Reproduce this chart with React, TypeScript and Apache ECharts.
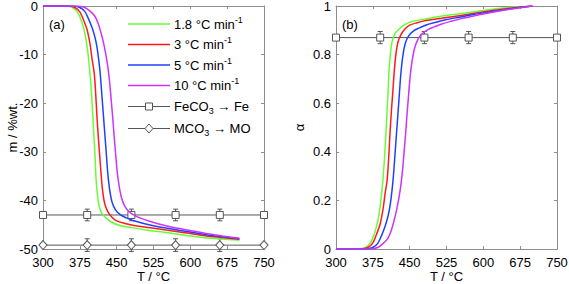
import { useEffect, useRef } from "react";
import * as echarts from "echarts";

const FONT = "'Liberation Sans', Arial, Helvetica, sans-serif";

// Heating-rate curves: temperature (°C), mass change (%wt.), conversion alpha
const T_18 = [300, 345, 360, 370, 378, 385, 390, 394, 397, 400, 403, 406, 408, 411, 414, 419, 427, 440, 455, 480, 517, 550, 591, 630, 700];
const M_18 = [0, 0, -0.3, -1.2, -3, -5.5, -8.5, -12, -15.5, -20, -25.5, -31, -35.5, -39, -41, -42.5, -43.5, -44.5, -45.1, -45.6, -46.2, -46.6, -47.2, -47.7, -48.2];
const A_18 = [0, 0, 0.006, 0.025, 0.062, 0.114, 0.176, 0.249, 0.322, 0.415, 0.529, 0.643, 0.736, 0.809, 0.851, 0.882, 0.902, 0.923, 0.936, 0.946, 0.959, 0.967, 0.979, 0.99, 1];

const T_3 = [300, 350, 365, 375, 383, 390, 396, 400, 404, 407, 410, 413, 416, 419, 422, 426, 432, 440, 450, 465, 483, 515, 551, 585, 618, 660, 700];
const M_3 = [0, 0, -0.3, -1.2, -3, -5, -8, -11, -13.5, -17.5, -23, -27.5, -31.5, -35.5, -38.5, -40.8, -42.3, -43.4, -44.2, -44.7, -45.1, -45.6, -46.1, -46.6, -47.1, -47.6, -48];
const A_3 = [0, 0, 0.006, 0.025, 0.063, 0.104, 0.167, 0.229, 0.281, 0.365, 0.479, 0.573, 0.656, 0.74, 0.802, 0.85, 0.881, 0.904, 0.921, 0.931, 0.94, 0.95, 0.96, 0.971, 0.981, 0.992, 1];

const T_5 = [300, 360, 375, 385, 392, 400, 406, 410, 414, 417, 420, 423, 426, 429, 432, 436, 441, 448, 458, 470, 485, 503, 525, 551, 580, 612, 650, 700];
const M_5 = [0, 0, -0.3, -1.1, -2.5, -4.5, -6.5, -8.5, -11.5, -14.5, -18.5, -22.5, -26.5, -30.5, -34.5, -38, -40.5, -42, -43, -43.6, -44.2, -44.7, -45.2, -45.7, -46.2, -46.7, -47.3, -47.9];
const A_5 = [0, 0, 0.006, 0.023, 0.052, 0.094, 0.136, 0.177, 0.24, 0.303, 0.386, 0.47, 0.553, 0.637, 0.72, 0.793, 0.846, 0.877, 0.898, 0.91, 0.923, 0.933, 0.944, 0.954, 0.965, 0.975, 0.987, 1];

const T_10 = [300, 370, 385, 395, 405, 412, 418, 423, 428, 432, 436, 439, 442, 445, 448, 451, 455, 460, 467, 476, 488, 500, 517, 534, 555, 578, 605, 632, 665, 700];
const M_10 = [0, 0, -0.3, -1, -2, -3.5, -5.5, -7.5, -10, -12.5, -16, -19.5, -23, -27, -30.5, -34, -37, -39.5, -41.3, -42.4, -43.2, -43.7, -44.3, -44.8, -45.3, -45.8, -46.3, -46.8, -47.3, -47.8];
const A_10 = [0, 0, 0.006, 0.021, 0.042, 0.073, 0.115, 0.157, 0.209, 0.262, 0.335, 0.408, 0.481, 0.565, 0.638, 0.711, 0.774, 0.826, 0.864, 0.887, 0.904, 0.914, 0.927, 0.937, 0.948, 0.958, 0.969, 0.979, 0.99, 1];

// Reference levels with markers
const REF_T = [300, 390, 480, 570, 660, 750];
const FE_M = [-43, -43, -43, -43, -43, -43];
const MO_M = [-49.2, -49.2, -49.2, -49.2, -49.2, -49.2];
const FE_A = [0.87, 0.87, 0.87, 0.87, 0.87, 0.87];
const ERR_T = [390, 480, 570, 660];
const FE_M_ERR = [1.2, 1.2, 1.2, 1.2];
const MO_M_ERR = [1.3, 1.3, 1.3, 1.3];
const FE_A_ERR = [0.025, 0.025, 0.025, 0.025];

const SERIES_NAMES = ["1.8 °C min", "3 °C min", "5 °C min", "10 °C min"];
const COLORS = ["#66ff33", "#ff1a1a", "#2040ff", "#cc33ff"];
const GREY = "#555555";
const FRAME = "#8c8c8c";

const zip = (a: number[], b: number[]) => a.map((v, i) => [v, b[i]]);
const zip3 = (a: number[], b: number[], c: number[]) => a.map((v, i) => [v, b[i], c[i]]);

function xAxes(gridIndex: number) {
  const common = {
    type: "value",
    gridIndex,
    min: 300,
    max: 750,
    interval: 75,
    splitLine: { show: false },
    axisLine: { show: true, onZero: false, lineStyle: { color: FRAME, width: 1 } },
    axisTick: { show: true, inside: true, length: 3, lineStyle: { color: FRAME } },
  };
  return [
    {
      ...common,
      position: "bottom",
      name: "T / °C",
      nameLocation: "middle",
      nameGap: 21,
      nameMoveOverlap: false,
      nameTextStyle: { fontSize: 13, lineHeight: 13, color: "#000", fontFamily: FONT },
      axisLabel: { fontSize: 13, lineHeight: 13, color: "#000", margin: 7, fontFamily: FONT },
    },
    { ...common, position: "top", axisLabel: { show: false } },
  ];
}

function yAxes(gridIndex: number, min: number, max: number, interval: number, name: string, nameGap: number) {
  const common = {
    type: "value",
    gridIndex,
    min,
    max,
    interval,
    splitLine: { show: false },
    axisLine: { show: true, onZero: false, lineStyle: { color: FRAME, width: 1 } },
    axisTick: { show: true, inside: true, length: 3, lineStyle: { color: FRAME } },
  };
  return [
    {
      ...common,
      position: "left",
      name,
      nameLocation: "middle",
      nameGap,
      nameMoveOverlap: false,
      nameTextStyle: { fontSize: 13, color: "#000", fontFamily: FONT },
      axisLabel: { fontSize: 13, lineHeight: 12, color: "#000", margin: 5, fontFamily: FONT },
    },
    { ...common, position: "right", axisLabel: { show: false } },
  ];
}

function errSeries(xAxisIndex: number, yAxisIndex: number, data: number[][]) {
  return {
    type: "custom",
    xAxisIndex,
    yAxisIndex,
    clip: false,
    z: 3,
    encode: { x: 0, y: 1 },
    data,
    renderItem: (_p: any, api: any) => {
      const x = api.value(0);
      const y = api.value(1);
      const e = api.value(2);
      const top = api.coord([x, y + e]);
      const bot = api.coord([x, y - e]);
      const hw = 2.5;
      const style = { stroke: GREY, lineWidth: 1, fill: "none" };
      return {
        type: "group",
        children: [
          { type: "line", shape: { x1: top[0], y1: top[1], x2: bot[0], y2: bot[1] }, style },
          { type: "line", shape: { x1: top[0] - hw, y1: top[1], x2: top[0] + hw, y2: top[1] }, style },
          { type: "line", shape: { x1: bot[0] - hw, y1: bot[1], x2: bot[0] + hw, y2: bot[1] }, style },
        ],
      };
    },
  };
}

function refLine(name: string, xAxisIndex: number, yAxisIndex: number, data: number[][], symbol: string, size: any) {
  return {
    name,
    type: "line",
    xAxisIndex,
    yAxisIndex,
    data,
    clip: false,
    symbol,
    symbolSize: size,
    showSymbol: true,
    z: 3,
    itemStyle: { color: "#fff", borderColor: GREY, borderWidth: 1 },
    lineStyle: { color: GREY, width: 1 },
  };
}

function curve(name: string, color: string, xAxisIndex: number, yAxisIndex: number, data: number[][]) {
  return {
    name,
    type: "line",
    xAxisIndex,
    yAxisIndex,
    data,
    showSymbol: false,
    symbol: "none",
    smooth: 0.3,
    z: 4,
    lineStyle: { color, width: 1.5 },
  };
}

export default function App() {
  const ref = useRef<HTMLDivElement>(null);

  useEffect(() => {
    if (!ref.current) return;
    const chart = echarts.init(ref.current, undefined, { renderer: "svg" });

    const rows = [24, 44.5, 65, 85.5, 106.5, 128.5];
    const lx1 = 128;
    const lx2 = 170;
    const tx = 174;
    const rich = {
      n: { fontSize: 13, fontFamily: FONT, fill: "#000", color: "#000" },
      sup: { fontSize: 9, fontFamily: FONT, fill: "#000", color: "#000", padding: [0, 0, 9, 0] },
      sub: { fontSize: 9, fontFamily: FONT, fill: "#000", color: "#000", padding: [9, 0, 0, 0] },
    };
    const legendTexts = [
      ...SERIES_NAMES.map((s) => `{n|${s}}{sup|-1}`),
      "{n|FeCO}{sub|3}{n| \u2192 Fe}",
      "{n|MCO}{sub|3}{n| \u2192 MO}",
    ];
    const graphic: any[] = [];
    rows.forEach((y, i) => {
      const color = i < 4 ? COLORS[i] : GREY;
      graphic.push({
        type: "line",
        shape: { x1: lx1, y1: y, x2: lx2, y2: y },
        style: { stroke: color, lineWidth: i < 4 ? 1.5 : 1 },
      });
      if (i === 4) {
        graphic.push({
          type: "rect",
          shape: { x: 145.5, y: y - 3.5, width: 7, height: 7 },
          style: { stroke: GREY, fill: "#fff", lineWidth: 1 },
        });
      }
      if (i === 5) {
        graphic.push({
          type: "polygon",
          shape: { points: [[149, y - 4.5], [153, y], [149, y + 4.5], [145, y]] },
          style: { stroke: GREY, fill: "#fff", lineWidth: 1 },
        });
      }
      graphic.push({
        type: "text",
        x: tx,
        y,
        style: { text: legendTexts[i], rich, verticalAlign: "middle", align: "left", fontSize: 13, fontFamily: FONT, fill: "#000" },
      });
    });
    graphic.push({
      type: "text",
      x: 49,
      y: 24,
      style: { text: "(a)", fontSize: 13, fontFamily: FONT, fill: "#000", verticalAlign: "middle" },
    });
    graphic.push({
      type: "text",
      x: 342,
      y: 24,
      style: { text: "(b)", fontSize: 13, fontFamily: FONT, fill: "#000", verticalAlign: "middle" },
    });

    const option: any = {
      animation: false,
      backgroundColor: "#fff",
      textStyle: { fontFamily: FONT },
      grid: [
        { left: 43, top: 6, width: 221, height: 243, show: false, containLabel: false, outerBoundsMode: "none" },
        { left: 336, top: 6, width: 221, height: 243, show: false, containLabel: false, outerBoundsMode: "none" },
      ],
      xAxis: [...xAxes(0), ...xAxes(1)],
      yAxis: [...yAxes(0, -50, 0, 10, "m / %wt.", 24), ...yAxes(1, 0, 1, 0.2, "\u03b1", 30)],
      series: [
        refLine("FeCO3 → Fe", 0, 0, zip(REF_T, FE_M), "rect", 7),
        refLine("MCO3 → MO", 0, 0, zip(REF_T, MO_M), "diamond", [8, 9]),
        errSeries(0, 0, zip3(ERR_T, FE_M.slice(1, 5), FE_M_ERR)),
        errSeries(0, 0, zip3(ERR_T, MO_M.slice(1, 5), MO_M_ERR)),
        curve(SERIES_NAMES[0], COLORS[0], 0, 0, zip(T_18, M_18)),
        curve(SERIES_NAMES[1], COLORS[1], 0, 0, zip(T_3, M_3)),
        curve(SERIES_NAMES[2], COLORS[2], 0, 0, zip(T_5, M_5)),
        curve(SERIES_NAMES[3], COLORS[3], 0, 0, zip(T_10, M_10)),
        refLine("FeCO3 → Fe (α)", 2, 2, zip(REF_T, FE_A), "rect", 7),
        errSeries(2, 2, zip3(ERR_T, FE_A.slice(1, 5), FE_A_ERR)),
        curve(SERIES_NAMES[0] + " α", COLORS[0], 2, 2, zip(T_18, A_18)),
        curve(SERIES_NAMES[1] + " α", COLORS[1], 2, 2, zip(T_3, A_3)),
        curve(SERIES_NAMES[2] + " α", COLORS[2], 2, 2, zip(T_5, A_5)),
        curve(SERIES_NAMES[3] + " α", COLORS[3], 2, 2, zip(T_10, A_10)),
      ],
      graphic,
    };
    chart.setOption(option);
    return () => chart.dispose();
  }, []);

  return <div ref={ref} style={{ position: "absolute", left: 0, top: 0, width: 569, height: 284 }} />;
}
